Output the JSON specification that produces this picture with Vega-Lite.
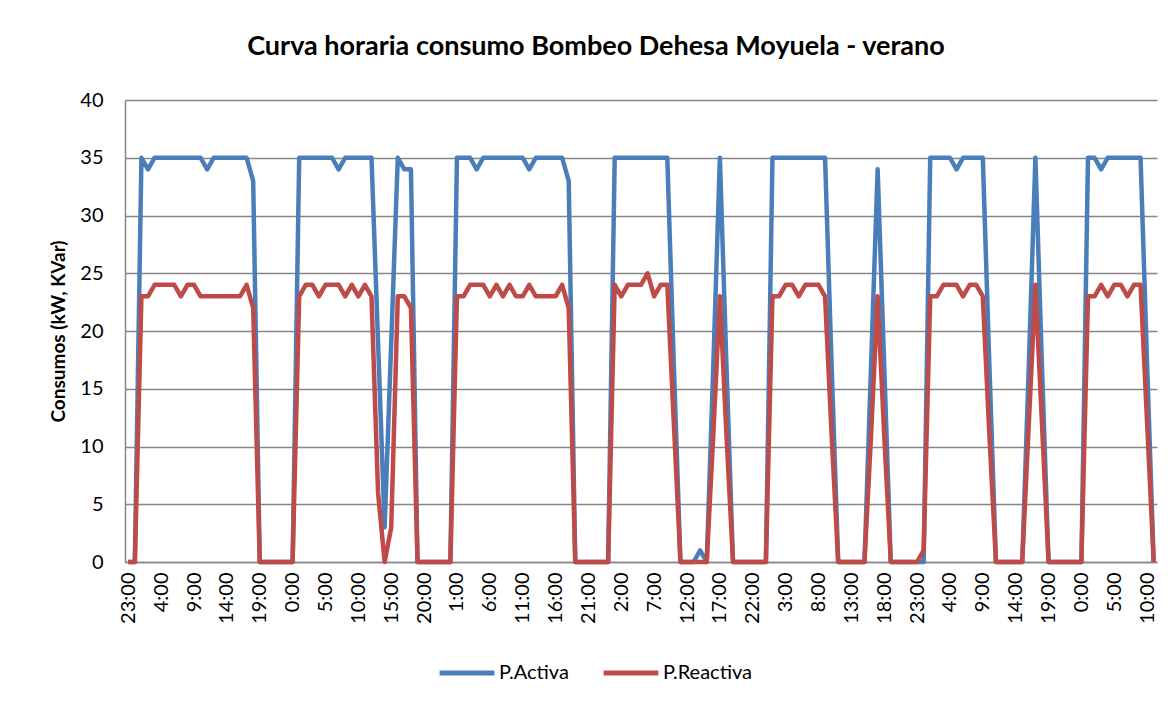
{
  "$schema": "https://vega.github.io/schema/vega-lite/v6.json",
  "width": 1032,
  "height": 462,
  "autosize": {"type": "none"},
  "padding": {"left": 125, "top": 100, "right": 18, "bottom": 145},
  "background": "white",
  "title": {"text": "Curva horaria consumo Bombeo Dehesa Moyuela - verano", "font": "Lato", "fontSize": 27, "fontWeight": "bold", "color": "#000000", "anchor": "middle", "dx": -45, "offset": 29},
  "config": {"view": {"stroke": null}},
  "data": {"values": [
    {"t":"0 23:00","a":0,"r":0},{"t":"1 0:00","a":0,"r":0},{"t":"1 1:00","a":35,"r":23},{"t":"1 2:00","a":34,"r":23},{"t":"1 3:00","a":35,"r":24},{"t":"1 4:00","a":35,"r":24},{"t":"1 5:00","a":35,"r":24},{"t":"1 6:00","a":35,"r":24},{"t":"1 7:00","a":35,"r":23},{"t":"1 8:00","a":35,"r":24},{"t":"1 9:00","a":35,"r":24},{"t":"1 10:00","a":35,"r":23},{"t":"1 11:00","a":34,"r":23},{"t":"1 12:00","a":35,"r":23},{"t":"1 13:00","a":35,"r":23},{"t":"1 14:00","a":35,"r":23},{"t":"1 15:00","a":35,"r":23},{"t":"1 16:00","a":35,"r":23},{"t":"1 17:00","a":35,"r":24},{"t":"1 18:00","a":33,"r":22},{"t":"1 19:00","a":0,"r":0},{"t":"1 20:00","a":0,"r":0},{"t":"1 21:00","a":0,"r":0},{"t":"1 22:00","a":0,"r":0},{"t":"1 23:00","a":0,"r":0},
    {"t":"2 0:00","a":0,"r":0},{"t":"2 1:00","a":35,"r":23},{"t":"2 2:00","a":35,"r":24},{"t":"2 3:00","a":35,"r":24},{"t":"2 4:00","a":35,"r":23},{"t":"2 5:00","a":35,"r":24},{"t":"2 6:00","a":35,"r":24},{"t":"2 7:00","a":34,"r":24},{"t":"2 8:00","a":35,"r":23},{"t":"2 9:00","a":35,"r":24},{"t":"2 10:00","a":35,"r":23},{"t":"2 11:00","a":35,"r":24},{"t":"2 12:00","a":35,"r":23},{"t":"2 13:00","a":19,"r":6},{"t":"2 14:00","a":3,"r":0},{"t":"2 15:00","a":19,"r":3},{"t":"2 16:00","a":35,"r":23},{"t":"2 17:00","a":34,"r":23},{"t":"2 18:00","a":34,"r":22},{"t":"2 19:00","a":0,"r":0},{"t":"2 20:00","a":0,"r":0},{"t":"2 21:00","a":0,"r":0},{"t":"2 22:00","a":0,"r":0},{"t":"2 23:00","a":0,"r":0},
    {"t":"3 0:00","a":0,"r":0},{"t":"3 1:00","a":35,"r":23},{"t":"3 2:00","a":35,"r":23},{"t":"3 3:00","a":35,"r":24},{"t":"3 4:00","a":34,"r":24},{"t":"3 5:00","a":35,"r":24},{"t":"3 6:00","a":35,"r":23},{"t":"3 7:00","a":35,"r":24},{"t":"3 8:00","a":35,"r":23},{"t":"3 9:00","a":35,"r":24},{"t":"3 10:00","a":35,"r":23},{"t":"3 11:00","a":35,"r":23},{"t":"3 12:00","a":34,"r":24},{"t":"3 13:00","a":35,"r":23},{"t":"3 14:00","a":35,"r":23},{"t":"3 15:00","a":35,"r":23},{"t":"3 16:00","a":35,"r":23},{"t":"3 17:00","a":35,"r":24},{"t":"3 18:00","a":33,"r":22},{"t":"3 19:00","a":0,"r":0},{"t":"3 20:00","a":0,"r":0},{"t":"3 21:00","a":0,"r":0},{"t":"3 22:00","a":0,"r":0},{"t":"3 23:00","a":0,"r":0},
    {"t":"4 0:00","a":0,"r":0},{"t":"4 1:00","a":35,"r":24},{"t":"4 2:00","a":35,"r":23},{"t":"4 3:00","a":35,"r":24},{"t":"4 4:00","a":35,"r":24},{"t":"4 5:00","a":35,"r":24},{"t":"4 6:00","a":35,"r":25},{"t":"4 7:00","a":35,"r":23},{"t":"4 8:00","a":35,"r":24},{"t":"4 9:00","a":35,"r":24},{"t":"4 10:00","a":17,"r":12},{"t":"4 11:00","a":0,"r":0},{"t":"4 12:00","a":0,"r":0},{"t":"4 13:00","a":0,"r":0},{"t":"4 14:00","a":1,"r":0},{"t":"4 15:00","a":0,"r":0},{"t":"4 16:00","a":17,"r":11},{"t":"4 17:00","a":35,"r":23},{"t":"4 18:00","a":17,"r":11},{"t":"4 19:00","a":0,"r":0},{"t":"4 20:00","a":0,"r":0},{"t":"4 21:00","a":0,"r":0},{"t":"4 22:00","a":0,"r":0},{"t":"4 23:00","a":0,"r":0},
    {"t":"5 0:00","a":0,"r":0},{"t":"5 1:00","a":35,"r":23},{"t":"5 2:00","a":35,"r":23},{"t":"5 3:00","a":35,"r":24},{"t":"5 4:00","a":35,"r":24},{"t":"5 5:00","a":35,"r":23},{"t":"5 6:00","a":35,"r":24},{"t":"5 7:00","a":35,"r":24},{"t":"5 8:00","a":35,"r":24},{"t":"5 9:00","a":35,"r":23},{"t":"5 10:00","a":17,"r":11},{"t":"5 11:00","a":0,"r":0},{"t":"5 12:00","a":0,"r":0},{"t":"5 13:00","a":0,"r":0},{"t":"5 14:00","a":0,"r":0},{"t":"5 15:00","a":0,"r":0},{"t":"5 16:00","a":17,"r":11},{"t":"5 17:00","a":34,"r":23},{"t":"5 18:00","a":17,"r":11},{"t":"5 19:00","a":0,"r":0},{"t":"5 20:00","a":0,"r":0},{"t":"5 21:00","a":0,"r":0},{"t":"5 22:00","a":0,"r":0},{"t":"5 23:00","a":0,"r":0},
    {"t":"6 0:00","a":0,"r":1},{"t":"6 1:00","a":35,"r":23},{"t":"6 2:00","a":35,"r":23},{"t":"6 3:00","a":35,"r":24},{"t":"6 4:00","a":35,"r":24},{"t":"6 5:00","a":34,"r":24},{"t":"6 6:00","a":35,"r":23},{"t":"6 7:00","a":35,"r":24},{"t":"6 8:00","a":35,"r":24},{"t":"6 9:00","a":35,"r":23},{"t":"6 10:00","a":17,"r":11},{"t":"6 11:00","a":0,"r":0},{"t":"6 12:00","a":0,"r":0},{"t":"6 13:00","a":0,"r":0},{"t":"6 14:00","a":0,"r":0},{"t":"6 15:00","a":0,"r":0},{"t":"6 16:00","a":17,"r":12},{"t":"6 17:00","a":35,"r":24},{"t":"6 18:00","a":17,"r":12},{"t":"6 19:00","a":0,"r":0},{"t":"6 20:00","a":0,"r":0},{"t":"6 21:00","a":0,"r":0},{"t":"6 22:00","a":0,"r":0},{"t":"6 23:00","a":0,"r":0},
    {"t":"7 0:00","a":0,"r":0},{"t":"7 1:00","a":35,"r":23},{"t":"7 2:00","a":35,"r":23},{"t":"7 3:00","a":34,"r":24},{"t":"7 4:00","a":35,"r":23},{"t":"7 5:00","a":35,"r":24},{"t":"7 6:00","a":35,"r":24},{"t":"7 7:00","a":35,"r":23},{"t":"7 8:00","a":35,"r":24},{"t":"7 9:00","a":35,"r":24},{"t":"7 10:00","a":17,"r":12},{"t":"7 11:00","a":0,"r":0}
  ]},
  "encoding": {
    "x": {
      "field": "t", "type": "ordinal", "sort": null,
      "scale": {"type": "point", "padding": 0.5},
      "axis": {
        "title": null,
        "values": ["0 23:00","1 4:00","1 9:00","1 14:00","1 19:00","2 0:00","2 5:00","2 10:00","2 15:00","2 20:00","3 1:00","3 6:00","3 11:00","3 16:00","3 21:00","4 2:00","4 7:00","4 12:00","4 17:00","4 22:00","5 3:00","5 8:00","5 13:00","5 18:00","5 23:00","6 4:00","6 9:00","6 14:00","6 19:00","7 0:00","7 5:00","7 10:00"],
        "labelExpr": "split(datum.value, ' ')[1]",
        "labelAngle": 270,
        "labelFont": "Lato", "labelFontSize": 20, "labelColor": "#000000",
        "labelPadding": 10, "labelOverlap": false, "labelBound": false, "labelFlush": false,
        "ticks": false, "grid": false,
        "domainColor": "#868686", "domainWidth": 1.5
      }
    }
  },
  "layer": [
    {
      "mark": {"type": "line", "strokeWidth": 4.5, "strokeJoin": "round", "strokeCap": "butt"},
      "encoding": {
        "y": {
          "field": "a", "type": "quantitative",
          "scale": {"domain": [0, 40], "nice": false},
          "axis": {
            "title": "Consumos (kW, KVar)",
            "titleFont": "Lato", "titleFontSize": 19, "titleFontWeight": "bold", "titleColor": "#000000", "titlePadding": 11,
            "values": [0, 5, 10, 15, 20, 25, 30, 35, 40],
            "labelFont": "Lato", "labelFontSize": 20, "labelColor": "#000000", "labelPadding": 22,
            "ticks": false, "grid": true, "gridColor": "#868686", "gridWidth": 1.5,
            "domainColor": "#868686", "domainWidth": 1.5
          }
        },
        "color": {
          "datum": "P.Activa",
          "scale": {"domain": ["P.Activa", "P.Reactiva"], "range": ["#4A7EBB", "#BE4B48"]},
          "legend": {
            "title": null, "orient": "none", "legendX": 312, "legendY": 543, "direction": "horizontal",
            "symbolType": "stroke", "symbolSize": 3000, "symbolStrokeWidth": 5,
            "labelFont": "Lato", "labelFontSize": 20, "labelColor": "#000000", "labelOffset": 2,
            "columnPadding": 24
          }
        }
      }
    },
    {
      "mark": {"type": "line", "strokeWidth": 4.5, "strokeJoin": "round", "strokeCap": "butt"},
      "encoding": {
        "y": {"field": "r", "type": "quantitative"},
        "color": {"datum": "P.Reactiva"}
      }
    }
  ]
}
